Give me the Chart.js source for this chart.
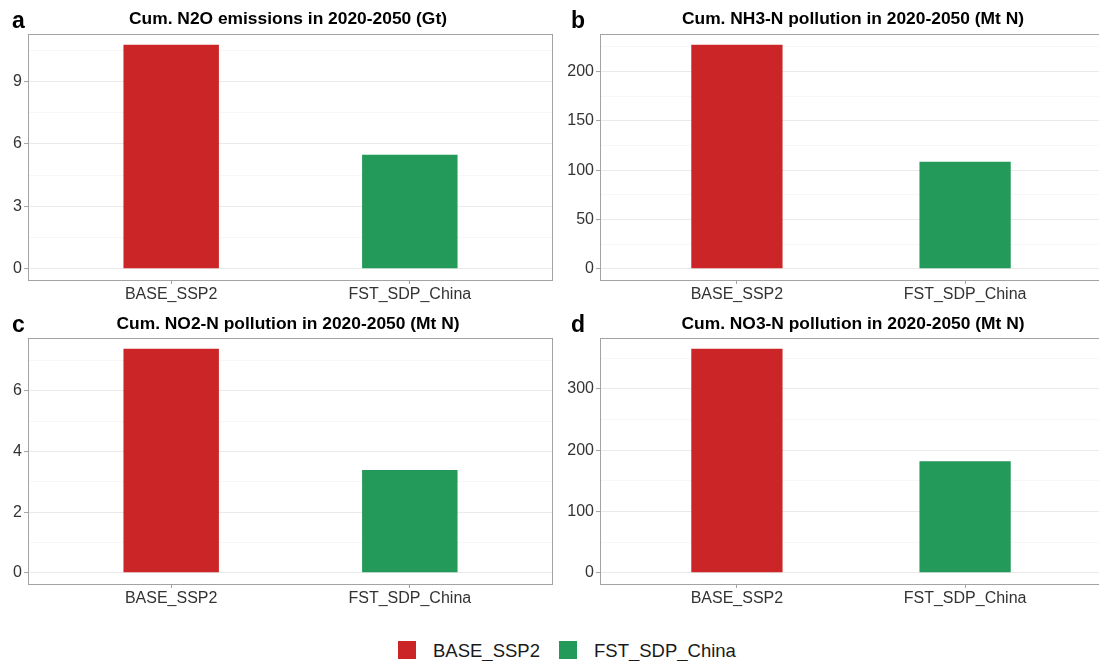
<!DOCTYPE html>
<html>
<head>
<meta charset="utf-8">
<script src="https://cdn.jsdelivr.net/npm/chart.js@4.4.0/dist/chart.umd.min.js"></script>
<style>
  html, body { margin: 0; padding: 0; background: #fff; }
  body { position: relative; width: 1099px; height: 661px; overflow: hidden;
         font-family: "Liberation Sans", Arial, Helvetica, sans-serif; }
  canvas { position: absolute; }
  .title { position: absolute; font-weight: bold; font-size: 17.4px; color: #000;
           white-space: nowrap; transform: translate(-50%, -50%); }
  .tag { position: absolute; font-weight: bold; font-size: 23px; color: #000;
         line-height: 1; }
  .key { position: absolute; width: 18px; height: 18px; }
  .keylab { position: absolute; font-size: 18.5px; color: #1A1A1A; line-height: 1;
            transform: translateY(-50%); white-space: nowrap; }
</style>
</head>
<body>
<canvas id="pa" width="560" height="288" style="left:0;top:22px"></canvas>
<canvas id="pb" width="545" height="288" style="left:560px;top:22px"></canvas>
<canvas id="pc" width="560" height="288" style="left:0;top:326px"></canvas>
<canvas id="pd" width="545" height="288" style="left:560px;top:326px"></canvas>

<div class="tag" style="left:12px;top:9px">a</div>
<div class="tag" style="left:571px;top:9px">b</div>
<div class="tag" style="left:12px;top:313px">c</div>
<div class="tag" style="left:571px;top:313px">d</div>

<div class="title" id="ta" style="left:288px;top:18px"></div>
<div class="title" id="tb" style="left:853px;top:18px"></div>
<div class="title" id="tc" style="left:288px;top:323px"></div>
<div class="title" id="td" style="left:853px;top:323px"></div>

<div class="key" id="k0" style="left:398px;top:641px"></div>
<div class="keylab" id="l0" style="left:433px;top:651px"></div>
<div class="key" id="k1" style="left:559px;top:641px"></div>
<div class="keylab" id="l1" style="left:594px;top:651px"></div>

<script>
// Scenarios on the x axis
const categories = ['BASE_SSP2', 'FST_SDP_China'];

// Cumulative 2020-2050 totals per scenario
const n2oValues = [10.77, 5.48];   // Gt
const nh3Values = [227.0, 108.5];  // Mt N
const no2Values = [7.39, 3.39];    // Mt N
const no3Values = [365.5, 182.2];  // Mt N

// Labelled y ticks per panel
const n2oTicks = [0, 3, 6, 9];
const nh3Ticks = [0, 50, 100, 150, 200];
const no2Ticks = [0, 2, 4, 6];
const no3Ticks = [0, 100, 200, 300];

// Panel titles
const panelTitles = [
  'Cum. N2O emissions in 2020-2050 (Gt)',
  'Cum. NH3-N pollution in 2020-2050 (Mt N)',
  'Cum. NO2-N pollution in 2020-2050 (Mt N)',
  'Cum. NO3-N pollution in 2020-2050 (Mt N)'
];

const scenarioColors = ['#CB2527', '#23995A'];

const FONT = '"Liberation Sans", Arial, Helvetica, sans-serif';
const BORDER = '#A3A3A3';
const TEXT = '#333333';

// full frame around the plotting area
const panelBorder = {
  id: 'panelBorder',
  afterDraw(chart) {
    const a = chart.chartArea, ctx = chart.ctx;
    ctx.save();
    ctx.strokeStyle = BORDER;
    ctx.lineWidth = 1;
    ctx.strokeRect(Math.round(a.left) + 0.5, Math.round(a.top) + 0.5,
                   Math.round(a.right - a.left) - 1, Math.round(a.bottom - a.top));
    ctx.restore();
  }
};

function makePanel(canvasId, values, majorTicks, yWidth, pad) {
  const top = Math.max(...values);
  const lo = -0.05 * top, hi = 1.05 * top;
  const step = majorTicks[1] - majorTicks[0];
  // major ticks plus the half-way minor lines
  const allTicks = [];
  for (let v = majorTicks[0] - step / 2; v <= hi + 1e-9; v += step / 2) {
    if (v >= lo) allTicks.push(+v.toFixed(6));
  }
  const isMajor = v => majorTicks.some(m => Math.abs(m - v) < 1e-6);

  new Chart(document.getElementById(canvasId), {
    type: 'bar',
    data: {
      datasets: [{
        data: values.map((v, i) => ({ x: i + 1, y: v })),
        backgroundColor: scenarioColors,
        borderWidth: 0,
        barPercentage: 0.4,
        categoryPercentage: 1
      }]
    },
    options: {
      responsive: false,
      animation: false,
      events: [],
      layout: { padding: pad },
      plugins: { legend: { display: false }, tooltip: { enabled: false } },
      scales: {
        x: {
          type: 'linear',
          min: 0.4, max: 2.6,
          offset: false,
          afterBuildTicks: s => { s.ticks = categories.map((c, i) => ({ value: i + 1 })); },
          afterFit: s => { s.height = 30; },
          ticks: {
            autoSkip: false, maxRotation: 0, padding: 1,
            color: TEXT, font: { family: FONT, size: 16 },
            callback: v => categories[Math.round(v) - 1] || ''
          },
          grid: { offset: false, drawOnChartArea: false, drawTicks: true, tickLength: 4,
                  tickColor: BORDER, tickWidth: 1 },
          border: { display: false }
        },
        y: {
          type: 'linear',
          min: lo, max: hi,
          afterBuildTicks: s => { s.ticks = allTicks.map(v => ({ value: v })); },
          afterFit: s => { s.width = yWidth; },
          ticks: {
            padding: 2,
            color: TEXT, font: { family: FONT, size: 16 },
            callback: v => isMajor(v) ? String(Math.round(v)) : ''
          },
          grid: {
            color: c => isMajor(c.tick.value) ? '#EAEAEA' : '#F3F3F3',
            lineWidth: c => isMajor(c.tick.value) ? 1.1 : 0.7,
            tickColor: c => isMajor(c.tick.value) ? BORDER : 'rgba(0,0,0,0)',
            tickLength: 4,
            tickWidth: 1
          },
          border: { display: false }
        }
      }
    },
    plugins: [panelBorder]
  });
}

makePanel('pa', n2oValues, n2oTicks, 28, { top: 0, right: 7, left: 0, bottom: 0 });
makePanel('pb', nh3Values, nh3Ticks, 40, { top: 0, right: 3, left: 0, bottom: 0 });
makePanel('pc', no2Values, no2Ticks, 28, { top: 0, right: 7, left: 0, bottom: 0 });
makePanel('pd', no3Values, no3Ticks, 40, { top: 0, right: 3, left: 0, bottom: 0 });

['ta', 'tb', 'tc', 'td'].forEach((id, i) => { document.getElementById(id).textContent = panelTitles[i]; });
categories.forEach((c, i) => {
  document.getElementById('k' + i).style.background = scenarioColors[i];
  document.getElementById('l' + i).textContent = c;
});
</script>
</body>
</html>
